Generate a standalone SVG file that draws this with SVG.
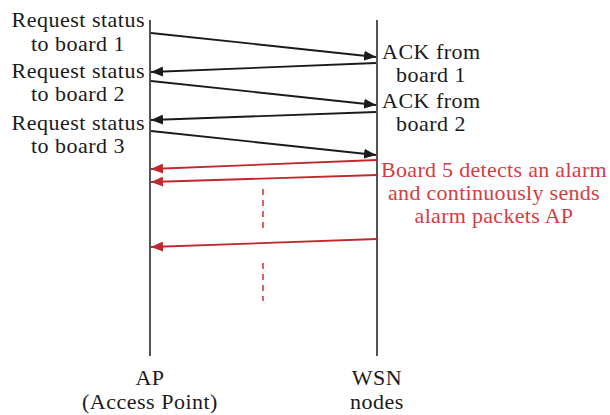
<svg xmlns="http://www.w3.org/2000/svg" width="610" height="415" viewBox="0 0 610 415">
<defs>
<marker id="ab" viewBox="0 0 12 10" refX="12" refY="5" markerWidth="12" markerHeight="10" markerUnits="userSpaceOnUse" orient="auto"><path d="M0,0 L12,5 L0,10 z" fill="#1a1a1a"/></marker>
<marker id="ar" viewBox="0 0 12 10" refX="12" refY="5" markerWidth="12" markerHeight="10" markerUnits="userSpaceOnUse" orient="auto"><path d="M0,0 L12,5 L0,10 z" fill="#c0282d"/></marker>
</defs>
<style>
text{font-family:"Liberation Serif","Times New Roman",serif;font-size:22px;fill:#1a1a1a;letter-spacing:0.5px}
.red{fill:#d93a3f;letter-spacing:0.3px}
.blk{stroke:#1a1a1a;stroke-width:1.8;fill:none;marker-end:url(#ab)}
.rd{stroke:#c0282d;stroke-width:1.8;fill:none;marker-end:url(#ar)}
.life{stroke:#2a2a2a;stroke-width:1.6}
.dash{stroke:#d93a3f;stroke-width:1.6;stroke-dasharray:6,5}
</style>
<rect width="610" height="415" fill="#ffffff"/>
<g id="ap">
<line class="life" x1="150" y1="20" x2="150" y2="356"/>
<text x="150" y="385" text-anchor="middle">AP</text>
<text x="150" y="409" text-anchor="middle">(Access Point)</text>
</g>
<g id="wsn">
<line class="life" x1="377" y1="20" x2="377" y2="356"/>
<text x="377" y="385" text-anchor="middle">WSN</text>
<text x="377" y="409" text-anchor="middle">nodes</text>
</g>
<g id="labels-left">
<text x="145" y="27" text-anchor="end">Request status</text>
<text x="78" y="51" text-anchor="middle">to board 1</text>
<text x="145" y="78" text-anchor="end">Request status</text>
<text x="78" y="101" text-anchor="middle">to board 2</text>
<text x="145" y="130" text-anchor="end">Request status</text>
<text x="78" y="153" text-anchor="middle">to board 3</text>
</g>
<g id="labels-right">
<text x="382" y="59">ACK from</text>
<text x="396" y="82">board 1</text>
<text x="382" y="108">ACK from</text>
<text x="396" y="131">board 2</text>
</g>
<g id="alarm-label">
<text class="red" x="494" y="177" text-anchor="middle">Board 5 detects an alarm</text>
<text class="red" x="494" y="200" text-anchor="middle">and continuously sends</text>
<text class="red" x="494" y="223" text-anchor="middle">alarm packets AP</text>
</g>
<g id="connectors">
<line class="blk" x1="151" y1="33" x2="376" y2="57"/>
<line class="blk" x1="376" y1="63" x2="151" y2="72"/>
<line class="blk" x1="151" y1="81" x2="376" y2="105"/>
<line class="blk" x1="376" y1="112" x2="151" y2="120"/>
<line class="blk" x1="151" y1="131" x2="376" y2="155"/>
<line class="rd" x1="377" y1="160" x2="151" y2="169"/>
<line class="rd" x1="377" y1="175" x2="151" y2="182"/>
<line class="rd" x1="377" y1="239" x2="151" y2="247"/>
<line class="dash" x1="263" y1="189" x2="263" y2="229"/>
<line class="dash" x1="263" y1="263" x2="263" y2="301"/>
</g>
</svg>
